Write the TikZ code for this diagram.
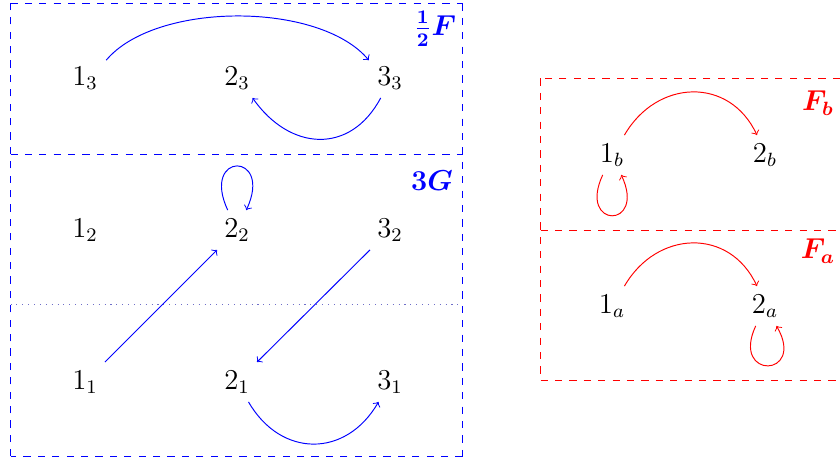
\documentclass[tikz,border=0pt]{standalone}
\usepackage{amsmath,bm}
\definecolor{myblue}{RGB}{0,0,255}
\definecolor{myred}{RGB}{255,0,0}
\definecolor{mydot}{RGB}{110,110,200}
\begin{document}
\begin{tikzpicture}[x=0.41667pt,y=-0.41667pt,
  font=\fontsize{11.5pt}{14pt}\selectfont,
  vtx/.style={inner sep=3.33pt},
  be/.style={draw=myblue,->},
  re/.style={draw=myred,->},
  bbox/.style={draw=myblue,dashed,line width=0.45pt},
  rbox/.style={draw=myred,dashed,line width=0.45pt},
  lbl/.style={inner sep=0pt}]
\useasboundingbox (0,0) rectangle (840,462);
% boxes
\draw[bbox] (10.5,3.5) -- (462.5,3.5);
\draw[bbox] (462.5,3.5) -- (462.5,456.5);
\draw[bbox] (462.5,456.5) -- (10.5,456.5);
\draw[bbox] (10.5,456.5) -- (10.5,3.5);
\draw[bbox] (10.5,154.5) -- (462.5,154.5);
\draw[draw=mydot,dotted,line width=0.45pt] (10.5,304.5) -- (462.5,304.5);
\draw[rbox] (840,78.5) -- (540.5,78.5);
\draw[rbox] (540.5,78.5) -- (540.5,380.5);
\draw[rbox] (540.5,380.5) -- (840,380.5);
\draw[rbox] (540.5,230.5) -- (840,230.5);
% labels
\node[lbl,text=myblue] (lF) at (435,29) {$\bm{\frac{1}{2}F}$};
\node[lbl,text=myblue] (lG) at (432,181) {$\bm{3G}$};
\node[lbl,text=myred] (lFb) at (818,103) {$\bm{F_b}$};
\node[lbl,text=myred] (lFa) at (818,251) {$\bm{F_a}$};
% nodes
\node[vtx] (n13) at (85,78) {$1_3$};
\node[vtx] (n23) at (237,78) {$2_3$};
\node[vtx] (n33) at (390,78) {$3_3$};
\node[vtx] (n12) at (85,230) {$1_2$};
\node[vtx] (n22) at (237,230) {$2_2$};
\node[vtx] (n32) at (390,230) {$3_2$};
\node[vtx] (n11) at (85,382) {$1_1$};
\node[vtx] (n21) at (237,382) {$2_1$};
\node[vtx] (n31) at (390,382) {$3_1$};
\node[vtx] (nb1) at (612,155) {$1_b$};
\node[vtx] (nb2) at (765,155) {$2_b$};
\node[vtx] (na1) at (612,306) {$1_a$};
\node[vtx] (na2) at (765,306) {$2_a$};
% blue edges
\draw[be] (n13.40) to[out=50,in=130,distance=32pt] (n33.140);
\draw[be] (n33.-115) to[out=-118,in=-55,distance=27pt] (n23.-52);
\draw[be] (n22.115) to[out=115,in=65,distance=27pt] (n22.65);
\draw[be] (n11) -- (n22);
\draw[be] (n32) -- (n21);
\draw[be] (n21.-60) to[out=-60,in=-120,distance=27pt] (n31.-120);
% red edges
\draw[re] (nb1.58) to[out=60,in=115,distance=27pt] (nb2.112);
\draw[re] (nb1.-115) to[out=-115,in=-65,distance=25pt] (nb1.-65);
\draw[re] (na1.58) to[out=60,in=115,distance=27pt] (na2.112);
\draw[re] (na2.-115) to[out=-115,in=-60,distance=25pt] (na2.-60);
\end{tikzpicture}
\end{document}
